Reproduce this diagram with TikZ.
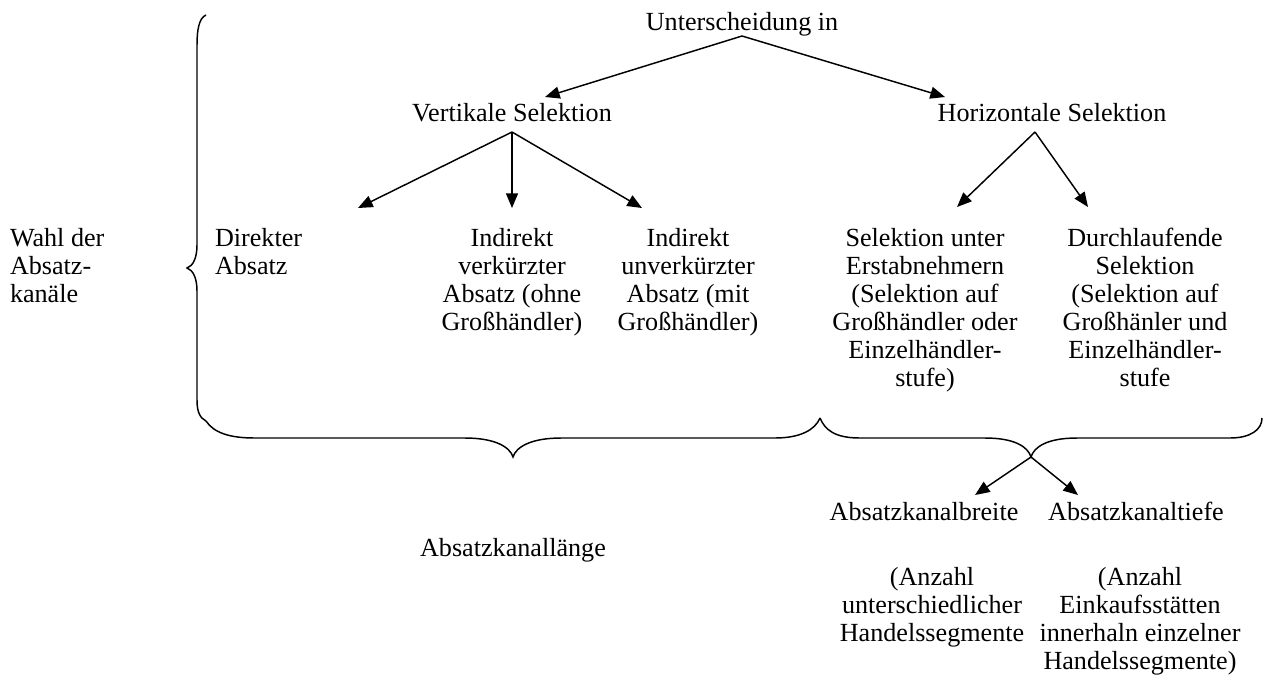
\documentclass[tikz,border=0pt]{standalone}
\usepackage{fontspec}
\setmainfont{Liberation Serif}
\usetikzlibrary{arrows.meta}
\begin{document}
\begin{tikzpicture}[x=0.75pt,y=-0.75pt,
  lbl/.style={inner sep=0pt,outer sep=0pt,font=\fontsize{19.6}{21}\selectfont},
  ctr/.style={lbl,align=center,anchor=north},
  lft/.style={lbl,align=left,anchor=north west},
  arr/.style={line width=1.1pt,-{Triangle[length=11pt,width=9pt]}},
  brace/.style={line width=1.1pt}]
\useasboundingbox (0,0) rectangle (1266,679);
% texts
\node[lbl,anchor=base] (unt) at (742,30) {Unterscheidung in};
\node[lbl,anchor=base] (vert) at (512,121) {Vertikale Selektion};
\node[lbl,anchor=base] (hor) at (1052,121) {Horizontale Selektion};
\node[lft] (wahl) at (10,228) {Wahl der\\Absatz-\\kanäle};
\node[lft] (dir) at (215,228) {Direkter\\Absatz};
\node[ctr] (ind1) at (512,228) {Indirekt\\verkürzter\\Absatz (ohne\\Großhändler)};
\node[ctr] (ind2) at (688,228) {Indirekt\\unverkürzter\\Absatz (mit\\Großhändler)};
\node[ctr] (sel1) at (925,228) {Selektion unter\\Erstabnehmern\\(Selektion auf\\Großhändler oder\\Einzelhändler-\\stufe)};
\node[ctr] (sel2) at (1145,228) {Durchlaufende\\Selektion\\(Selektion auf\\Großhänler und\\Einzelhändler-\\stufe};
\node[lbl,anchor=base] (laenge) at (513,556) {Absatzkanallänge};
\node[lbl,anchor=base] (breite) at (924,520) {Absatzkanalbreite};
\node[lbl,anchor=base] (tiefe) at (1136,520) {Absatzkanaltiefe};
\node[ctr] (anz1) at (932,567) {(Anzahl\\unterschiedlicher\\Handelssegmente};
\node[ctr] (anz2) at (1140,567) {(Anzahl\\Einkaufsstätten\\innerhaln einzelner\\Handelssegmente)};
% arrow end points
\coordinate (uS) at (742,36);
\coordinate (vE) at (545,97);
\coordinate (hE) at (945,97);
\coordinate (vS) at (512,132);
\coordinate (dE) at (358,208);
\coordinate (i1E) at (512,208);
\coordinate (i2E) at (642,208);
\coordinate (hS) at (1035,132);
\coordinate (s1E) at (957,207);
\coordinate (s2E) at (1088,207);
\coordinate (tipR) at (1031,457);
\coordinate (bE) at (975,495);
\coordinate (tE) at (1078,495);
% arrows
\draw[arr] (uS) -- (vE);
\draw[arr] (uS) -- (hE);
\draw[arr] (vS) -- (dE);
\draw[arr] (vS) -- (i1E);
\draw[arr] (vS) -- (i2E);
\draw[arr] (hS) -- (s1E);
\draw[arr] (hS) -- (s2E);
\draw[arr] (tipR) -- (bE);
\draw[arr] (tipR) -- (tE);
% braces
\draw[brace] (206,15) .. controls (199,18) and (197,30) .. (197,45) -- (197,245)
  .. controls (197,258) and (193,266) .. (187,268)
  .. controls (193,270) and (197,278) .. (197,291) -- (197,400)
  .. controls (197,412) and (200,418) .. (206,421);
\draw[brace] (206,421) .. controls (214,433) and (230,438) .. (255,438) -- (465,438)
  .. controls (495,438) and (510,447) .. (513,457)
  .. controls (516,447) and (531,438) .. (561,438) -- (775,438)
  .. controls (800,438) and (815,430) .. (820,418);
\draw[brace] (820,418) .. controls (825,430) and (835,438) .. (860,438) -- (985,438)
  .. controls (1015,438) and (1028,447) .. (tipR)
  .. controls (1034,447) and (1047,438) .. (1077,438) -- (1230,438)
  .. controls (1250,438) and (1262,430) .. (1262,418);
\end{tikzpicture}
\end{document}
